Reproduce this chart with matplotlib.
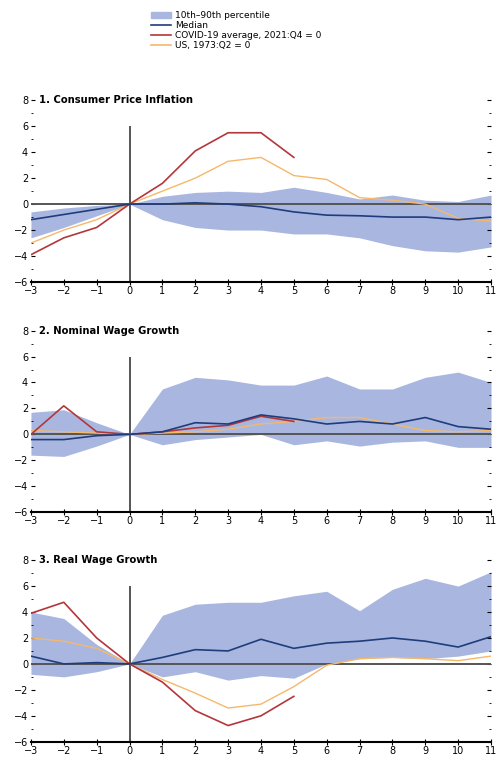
import matplotlib.pyplot as plt
from matplotlib.patches import Patch
from matplotlib.lines import Line2D
from matplotlib.ticker import MultipleLocator

quarters = list(range(-3, 12))
covid_q = list(range(-3, 6))

titles = ["1. Consumer Price Inflation", "2. Nominal Wage Growth", "3. Real Wage Growth"]

# panel 1: consumer price inflation
cpi_lo = [-2.6, -1.8, -0.9, 0, -1.2, -1.8, -2.0, -2.0, -2.3, -2.3, -2.6, -3.2, -3.6, -3.7, -3.3]
cpi_hi = [-0.6, -0.3, -0.1, 0, 0.6, 0.9, 1.0, 0.9, 1.3, 0.9, 0.4, 0.7, 0.3, 0.2, 0.7]
cpi_med = [-1.2, -0.8, -0.4, 0, 0.0, 0.1, 0.0, -0.2, -0.6, -0.85, -0.9, -1.0, -1.0, -1.2, -1.0]
cpi_covid = [-3.9, -2.6, -1.8, 0, 1.6, 4.1, 5.5, 5.5, 3.6]
cpi_us = [-3.0, -2.0, -1.2, 0, 1.0, 2.0, 3.3, 3.6, 2.2, 1.9, 0.5, 0.3, 0.0, -1.1, -1.3]

# panel 2: nominal wage growth
nom_lo = [-1.6, -1.7, -0.9, 0, -0.8, -0.4, -0.2, 0.0, -0.8, -0.5, -0.9, -0.6, -0.5, -1.0, -1.0]
nom_hi = [1.7, 1.9, 0.9, 0, 3.5, 4.4, 4.2, 3.8, 3.8, 4.5, 3.5, 3.5, 4.4, 4.8, 4.0]
nom_med = [-0.4, -0.4, -0.1, 0, 0.2, 0.9, 0.8, 1.5, 1.2, 0.8, 1.0, 0.8, 1.3, 0.6, 0.4]
nom_covid = [0.0, 2.2, 0.2, 0, 0.2, 0.5, 0.7, 1.4, 1.0]
nom_us = [0.3, 0.2, 0.1, 0, 0.1, 0.2, 0.4, 0.8, 1.0, 1.3, 1.3, 0.8, 0.3, 0.2, 0.3]

# panel 3: real wage growth
real_lo = [-0.8, -1.0, -0.6, 0, -1.0, -0.6, -1.25, -0.9, -1.1, 0.0, 0.4, 0.5, 0.4, 0.6, 1.0]
real_hi = [4.0, 3.5, 1.5, 0, 3.75, 4.6, 4.75, 4.75, 5.25, 5.6, 4.1, 5.75, 6.6, 6.0, 7.1]
real_med = [0.6, 0.0, 0.1, 0, 0.5, 1.1, 1.0, 1.9, 1.2, 1.6, 1.75, 2.0, 1.75, 1.3, 2.1]
real_covid = [3.9, 4.75, 2.0, 0, -1.4, -3.6, -4.75, -4.0, -2.5]
real_us = [2.0, 1.75, 1.2, 0, -1.2, -2.25, -3.4, -3.1, -1.75, -0.1, 0.4, 0.5, 0.4, 0.25, 0.6]

panels = [
    (cpi_lo, cpi_hi, cpi_med, cpi_covid, cpi_us),
    (nom_lo, nom_hi, nom_med, nom_covid, nom_us),
    (real_lo, real_hi, real_med, real_covid, real_us),
]

band_c = "#a9b7e0"
med_c = "#1f3d7c"
covid_c = "#b3363b"
us_c = "#f5b86b"

fig = plt.figure(figsize=(4.99, 7.6), dpi=100)
bottoms = [0.629, 0.326, 0.024]
height = 0.239

for (lo, hi, med, cov, us), title, b in zip(panels, titles, bottoms):
    ax = fig.add_axes([0.062, b, 0.922, height])
    ax.fill_between(quarters, lo, hi, color=band_c, lw=0, zorder=1)
    ax.axhline(0, color="#555555", lw=1.4, zorder=2)
    ax.vlines(0, -6, 6, color="#555555", lw=1.4, zorder=2)
    ax.plot(quarters, us, color=us_c, lw=1.0, zorder=3)
    ax.plot(covid_q, cov, color=covid_c, lw=1.2, zorder=4)
    ax.plot(quarters, med, color=med_c, lw=1.2, zorder=5)
    ax.set_xlim(-3, 11)
    ax.set_ylim(-6, 8)
    ax.set_xticks(quarters)
    ax.yaxis.set_major_locator(MultipleLocator(2))
    ax.yaxis.set_minor_locator(MultipleLocator(1))
    for s in ["top", "left", "right"]:
        ax.spines[s].set_visible(False)
    ax.spines["bottom"].set_linewidth(1.5)
    ax.tick_params(axis="x", direction="inout", length=4, labelsize=7, pad=1)
    ax.tick_params(axis="y", which="both", left=True, right=True, direction="in",
                   labelsize=7, pad=2)
    ax.tick_params(axis="y", which="major", length=3)
    ax.tick_params(axis="y", which="minor", length=1.5)
    ax.text(0.018, 1.0, title, transform=ax.transAxes, fontsize=7.2, fontweight="bold",
            va="center", ha="left")

handles = [
    Patch(color=band_c, label="10th\u201390th percentile"),
    Line2D([], [], color=med_c, lw=1.2, label="Median"),
    Line2D([], [], color=covid_c, lw=1.2, label="COVID-19 average, 2021:Q4 = 0"),
    Line2D([], [], color=us_c, lw=1.2, label="US, 1973:Q2 = 0"),
]
fig.legend(handles=handles, loc="upper left", bbox_to_anchor=(0.295, 0.99), frameon=False,
           fontsize=6.5, handlelength=2.2, handletextpad=0.5, labelspacing=0.1,
           handleheight=0.6, borderaxespad=0)

fig.savefig("out.png", dpi=100)
